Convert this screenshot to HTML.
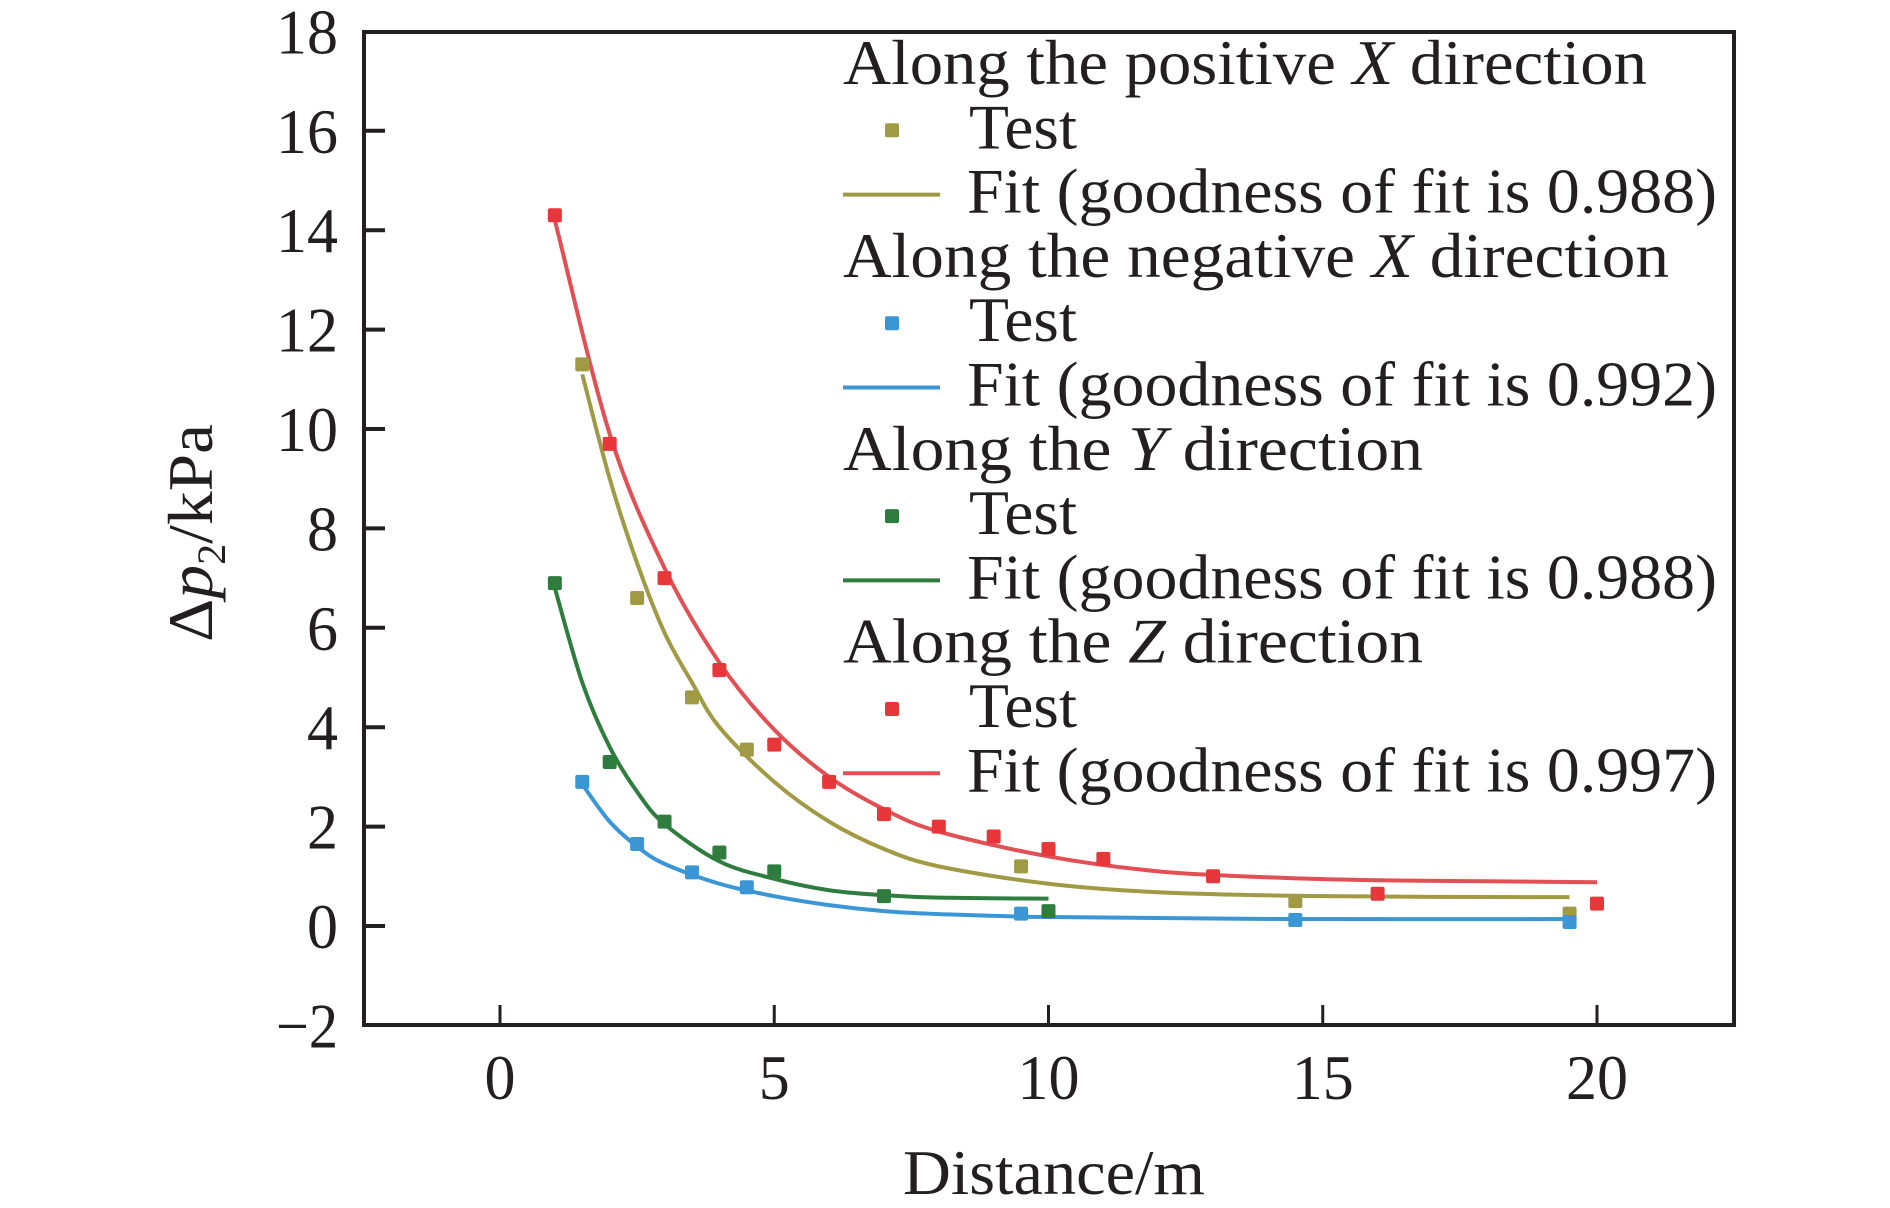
<!DOCTYPE html>
<html><head><meta charset="utf-8"><style>
html,body{margin:0;padding:0;background:#fff;}
svg{display:block;font-family:"Liberation Serif",serif;}
</style></head><body>
<svg id="chart" width="1890" height="1208" viewBox="0 0 1890 1208" xmlns="http://www.w3.org/2000/svg">
<g id="plot"></g>
</svg>
<script>
const xTicks = [0, 5, 10, 15, 20];
const yTicks = [-2, 0, 2, 4, 6, 8, 10, 12, 14, 16, 18];
const yTickLabels = ["\u22122","0","2","4","6","8","10","12","14","16","18"];

const posXx = [1.5, 2.5, 3.5, 4.5, 9.5, 14.5, 19.5];
const posXy = [11.3, 6.6, 4.6, 3.55, 1.2, 0.5, 0.25];
const negXx = [1.5, 2.5, 3.5, 4.5, 9.5, 14.5, 19.5];
const negXy = [2.9, 1.65, 1.08, 0.78, 0.25, 0.12, 0.08];
const dirYx = [1, 2, 3, 4, 5, 7, 10];
const dirYy = [6.9, 3.3, 2.1, 1.48, 1.1, 0.6, 0.3];
const dirZx = [1, 2, 3, 4, 5, 6, 7, 8, 9, 10, 11, 13, 16, 20];
const dirZy = [14.3, 9.7, 7.0, 5.15, 3.65, 2.9, 2.25, 2.0, 1.8, 1.55, 1.35, 1.0, 0.65, 0.45];

const fitPosXx = [1.5, 2, 2.5, 3, 3.5, 4, 5, 6, 7, 8, 10, 12, 15, 19.5];
const fitPosXy = [11.1, 9.0, 7.3, 5.9, 4.9, 4.0, 2.9, 2.1, 1.55, 1.2, 0.85, 0.68, 0.6, 0.58];
const fitNegXx = [1.5, 2, 2.5, 3, 4, 5, 6, 7, 8, 10, 14, 19.5];
const fitNegXy = [2.85, 2.1, 1.6, 1.25, 0.85, 0.6, 0.42, 0.3, 0.24, 0.18, 0.14, 0.14];
const fitYx = [1, 1.5, 2, 2.5, 3, 4, 5, 6, 7, 8, 10];
const fitYy = [6.8, 4.9, 3.6, 2.7, 2.05, 1.3, 0.95, 0.72, 0.62, 0.57, 0.55];
const fitZx = [1, 2, 3, 4, 5, 6, 7, 8, 10, 12, 14, 16, 18, 20];
const fitZy = [14.2, 9.9, 7.2, 5.3, 3.95, 3.0, 2.35, 1.9, 1.4, 1.1, 0.98, 0.92, 0.9, 0.88];

const NS = "http://www.w3.org/2000/svg";
const L = 364, R = 1734, T = 32, B = 1025;
const X0 = 500, XS = 54.85;
const Y0 = 926, YS = 49.7;
function sx(v){ return X0 + v * XS; }
function sy(v){ return Y0 - v * YS; }
const g = document.getElementById("plot");
function mk(tag, attrs, parent){
  const e = document.createElementNS(NS, tag);
  for (const k in attrs) e.setAttribute(k, attrs[k]);
  (parent || g).appendChild(e);
  return e;
}
function smooth(xs, ys){
  const p = xs.map((x,i)=>[sx(x), sy(ys[i])]);
  let d = "M" + p[0][0] + "," + p[0][1];
  for (let i = 0; i < p.length - 1; i++){
    const p0 = p[i-1] || p[i], p1 = p[i], p2 = p[i+1], p3 = p[i+2] || p2;
    const c1x = p1[0] + (p2[0]-p0[0])/6, c1y = p1[1] + (p2[1]-p0[1])/6;
    const c2x = p2[0] - (p3[0]-p1[0])/6, c2y = p2[1] - (p3[1]-p1[1])/6;
    d += " C" + c1x + "," + c1y + " " + c2x + "," + c2y + " " + p2[0] + "," + p2[1];
  }
  return d;
}

const frame = mk("rect", {x:L, y:T, width:R-L, height:B-T, fill:"none", stroke:"#231f20", "stroke-width":4});



yTicks.forEach((v,i)=>{
  const y = sy(v);
  if (v > -2 && v < 18) {
    const t = mk("line", {x1:L, x2:L+21, y1:y, y2:y, stroke:"#231f20", "stroke-width":4});
    
    
  }
  const lab = yTickLabels[i];
  const w = lab.length === 2 ? 62 : 31;
  const lb = mk("text", {x:338, y:y+22, "text-anchor":"end", "font-size":64, fill:"#231f20", textLength:w, lengthAdjust:"spacingAndGlyphs"});
  lb.textContent = lab;
  
  
});
xTicks.forEach(v=>{
  const x = sx(v);
  const t = mk("line", {x1:x, x2:x, y1:B, y2:B-20, stroke:"#231f20", "stroke-width":3});
  
  
  const lab = String(v);
  const lb = mk("text", {x:x, y:1099, "text-anchor":"middle", "font-size":64, fill:"#231f20", textLength:lab.length*31, lengthAdjust:"spacingAndGlyphs"});
  lb.textContent = lab;
  
  
});

const xt = mk("text", {x:1054, y:1194, "text-anchor":"middle", "font-size":64, fill:"#231f20", textLength:302, lengthAdjust:"spacingAndGlyphs"});
xt.textContent = "Distance/m";


const yt = mk("text", {x:0, y:0, "text-anchor":"middle", "font-size":64, fill:"#231f20", transform:"translate(212,533) rotate(-90)", textLength:218, lengthAdjust:"spacingAndGlyphs"});
yt.innerHTML = 'Δ<tspan font-style="italic">p</tspan><tspan font-size="40" dy="13">2</tspan><tspan dy="-13">/kPa</tspan>';



const series = [
  {name:"positive-x", color:"#a09a45", line:"#a09a45", px:posXx, py:posXy, fx:fitPosXx, fy:fitPosXy},
  {name:"negative-x", color:"#3b96d6", line:"#3b96d6", px:negXx, py:negXy, fx:fitNegXx, fy:fitNegXy},
  {name:"y-direction", color:"#2f7d3e", line:"#2f7d3e", px:dirYx, py:dirYy, fx:fitYx, fy:fitYy},
  {name:"z-direction", color:"#e8373a", line:"#e05055", px:dirZx, py:dirZy, fx:fitZx, fy:fitZy}
];
series.forEach(s=>{
  const p = mk("path", {d:smooth(s.fx, s.fy), fill:"none", stroke:s.line, "stroke-width":4});
  
  
});
series.forEach(s=>{
  s.px.forEach((x,i)=>{
    const r = mk("rect", {x:sx(x)-7, y:sy(s.py[i])-7, width:14, height:14, rx:2, fill:s.color});
    
    
  });
});

const legend = mk("g", {});


const heads = [
  ['Along the positive ', 'X', ' direction'],
  ['Along the negative ', 'X', ' direction'],
  ['Along the ', 'Y', ' direction'],
  ['Along the ', 'Z', ' direction']
];
const headW = [804, 826, 580, 580];
const fits = ["0.988","0.992","0.988","0.997"];
const B0 = 84, LS = 64.3;
series.forEach((s,k)=>{
  const b = B0 + k*3*LS;
  const h = mk("text", {x:843, y:b, "font-size":64, fill:"#231f20", textLength:headW[k], lengthAdjust:"spacingAndGlyphs"}, legend);
  h.innerHTML = heads[k][0] + '<tspan font-style="italic">' + heads[k][1] + '</tspan>' + heads[k][2];
  
  
  const m = mk("rect", {x:885, y:b+LS-25, width:14, height:14, rx:2, fill:s.color}, legend);
  
  
  const t1 = mk("text", {x:969, y:b+LS, "font-size":64, fill:"#231f20", textLength:108, lengthAdjust:"spacingAndGlyphs"}, legend);
  t1.textContent = "Test";
  
  
  const ln = mk("line", {x1:843, x2:940, y1:b+2*LS-18, y2:b+2*LS-18, stroke:s.line, "stroke-width":4}, legend);
  
  
  const t2 = mk("text", {x:967, y:b+2*LS, "font-size":64, fill:"#231f20", textLength:750, lengthAdjust:"spacingAndGlyphs"}, legend);
  t2.textContent = "Fit (goodness of fit is " + fits[k] + ")";
  
  
});
</script>
</body></html>
